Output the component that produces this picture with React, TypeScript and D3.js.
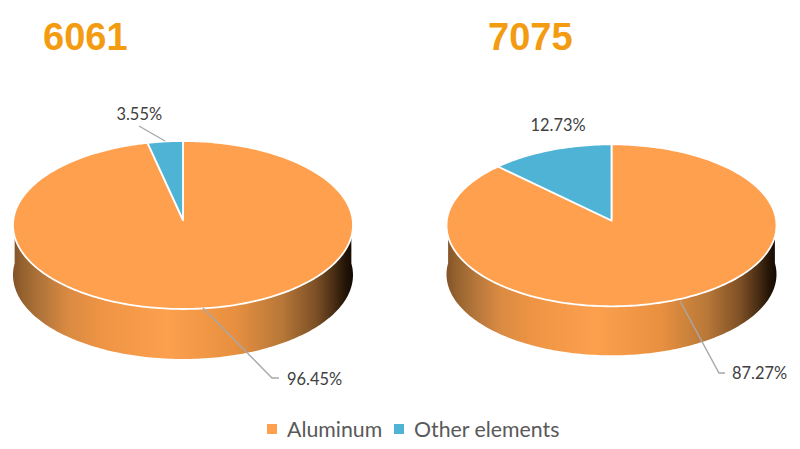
import React from "react";
import * as d3 from "d3";

const titles = ["6061", "7075"];
const categories = ["Aluminum", "Other elements"];
const values6061 = [96.45, 3.55];
const values7075 = [87.27, 12.73];
const labels6061 = ["96.45%", "3.55%"];
const labels7075 = ["87.27%", "12.73%"];
const sliceColors = ["#FFA04E", "#4FB3D6"];
const sideStops: [number, string][] = [
  [0, "#82522a"], [0.03, "#96622e"], [0.08, "#b0743a"], [0.16, "#d98a42"], [0.26, "#ee9444"], [0.45, "#fca04e"],
  [0.65, "#e89040"], [0.79, "#b87838"], [0.89, "#7e5026"], [0.94, "#4d3015"], [0.98, "#221306"], [1, "#140a02"],
];

type Spec = {
  id: string; title: string; titleX: number; values: number[]; labels: string[];
  cx: number; apexY: number; A: number; B: number; k: number; depth: number; rx: number;
  leaders: [number, number][][]; labelPos: [number, number][];
};

const specs: Spec[] = [
  { id: "a", title: titles[0], titleX: 43, values: values6061, labels: labels6061,
    cx: 183, apexY: 220, A: 169.7, B: 83.7, k: 0.0595, depth: 50, rx: 170,
    leaders: [[[203, 308], [272, 378], [279, 378]], [[139, 126], [165, 141]]],
    labelPos: [[287, 385], [116.5, 120]] },
  { id: "b", title: titles[1], titleX: 488, values: values7075, labels: labels7075,
    cx: 611.5, apexY: 220.5, A: 164.7, B: 80.7, k: 0.0595, depth: 49, rx: 165,
    leaders: [[[680, 301], [719, 373], [725, 373]]],
    labelPos: [[732, 379], [530.5, 131]] },
];

const line = d3.line<[number, number]>();

function project(s: Spec, angle: number, dy = 0): [number, number] {
  const u = Math.sin(angle), v = -Math.cos(angle), w = 1 - s.k * v;
  return [s.cx + (s.A * u) / w, s.apexY + (s.B * v) / w + dy];
}

function arcPoints(s: Spec, a0: number, a1: number, dy = 0) {
  const n = Math.max(2, Math.ceil((a1 - a0) / 0.02));
  return d3.range(n + 1).map((i) => project(s, a0 + ((a1 - a0) * i) / n, dy));
}

function Pie3D({ s }: { s: Spec }) {
  const pie = d3.pie<number>().sort(null);
  const arcs = pie(s.values);
  const sideTop = arcPoints(s, Math.PI / 2 - 0.08, (3 * Math.PI) / 2 + 0.08);
  const sideBottom = arcPoints(s, Math.PI / 2 - 0.08, (3 * Math.PI) / 2 + 0.08, s.depth).reverse();
  const grad = d3.scaleLinear().domain([0, 1]).range([s.cx - s.rx, s.cx + s.rx]);
  return (
    <g>
      <defs>
        <linearGradient id={`side-${s.id}`} gradientUnits="userSpaceOnUse" x1={grad(0)} x2={grad(1)} y1={0} y2={0}>
          {sideStops.map(([o, c]) => <stop key={o} offset={o} stopColor={c} />)}
        </linearGradient>
      </defs>
      <path d={line([...sideTop, ...sideBottom]) + "Z"} fill={`url(#side-${s.id})`} />
      {arcs.map((a, i) => (
        <path
          key={i}
          d={line([[s.cx, s.apexY], ...arcPoints(s, a.startAngle, a.endAngle)]) + "Z"}
          fill={sliceColors[i]}
          stroke="#fff"
          strokeWidth={1.8}
          strokeLinejoin="round"
        />
      ))}
      {s.leaders.map((pts, i) => (
        <path key={i} d={line(pts) ?? ""} fill="none" stroke="#a8a8a8" strokeWidth={1.4} />
      ))}
      {s.labels.map((t, i) => (
        <text key={i} x={s.labelPos[i][0]} y={s.labelPos[i][1]} fontFamily="Lato" fontSize={16.4} fill="#404040">{t}</text>
      ))}
      <text x={s.titleX} y={50} fontFamily="'Liberation Sans'" fontWeight="bold" fontSize={38} fill="#F39C12">{s.title}</text>
    </g>
  );
}

export default function App() {
  return (
    <svg width={800} height={449} viewBox="0 0 800 449" style={{ position: "fixed", left: 0, top: 0, background: "#fff" }}>
      {specs.map((s) => <Pie3D key={s.id} s={s} />)}
      <rect x={267} y={424} width={10} height={10} fill={sliceColors[0]} />
      <text x={287} y={437} fontFamily="Lato" fontSize={21.3} fill="#595959">{categories[0]}</text>
      <rect x={394} y={424} width={10} height={10} fill={sliceColors[1]} />
      <text x={414} y={437} fontFamily="Lato" fontSize={21.3} fill="#595959">{categories[1]}</text>
    </svg>
  );
}
